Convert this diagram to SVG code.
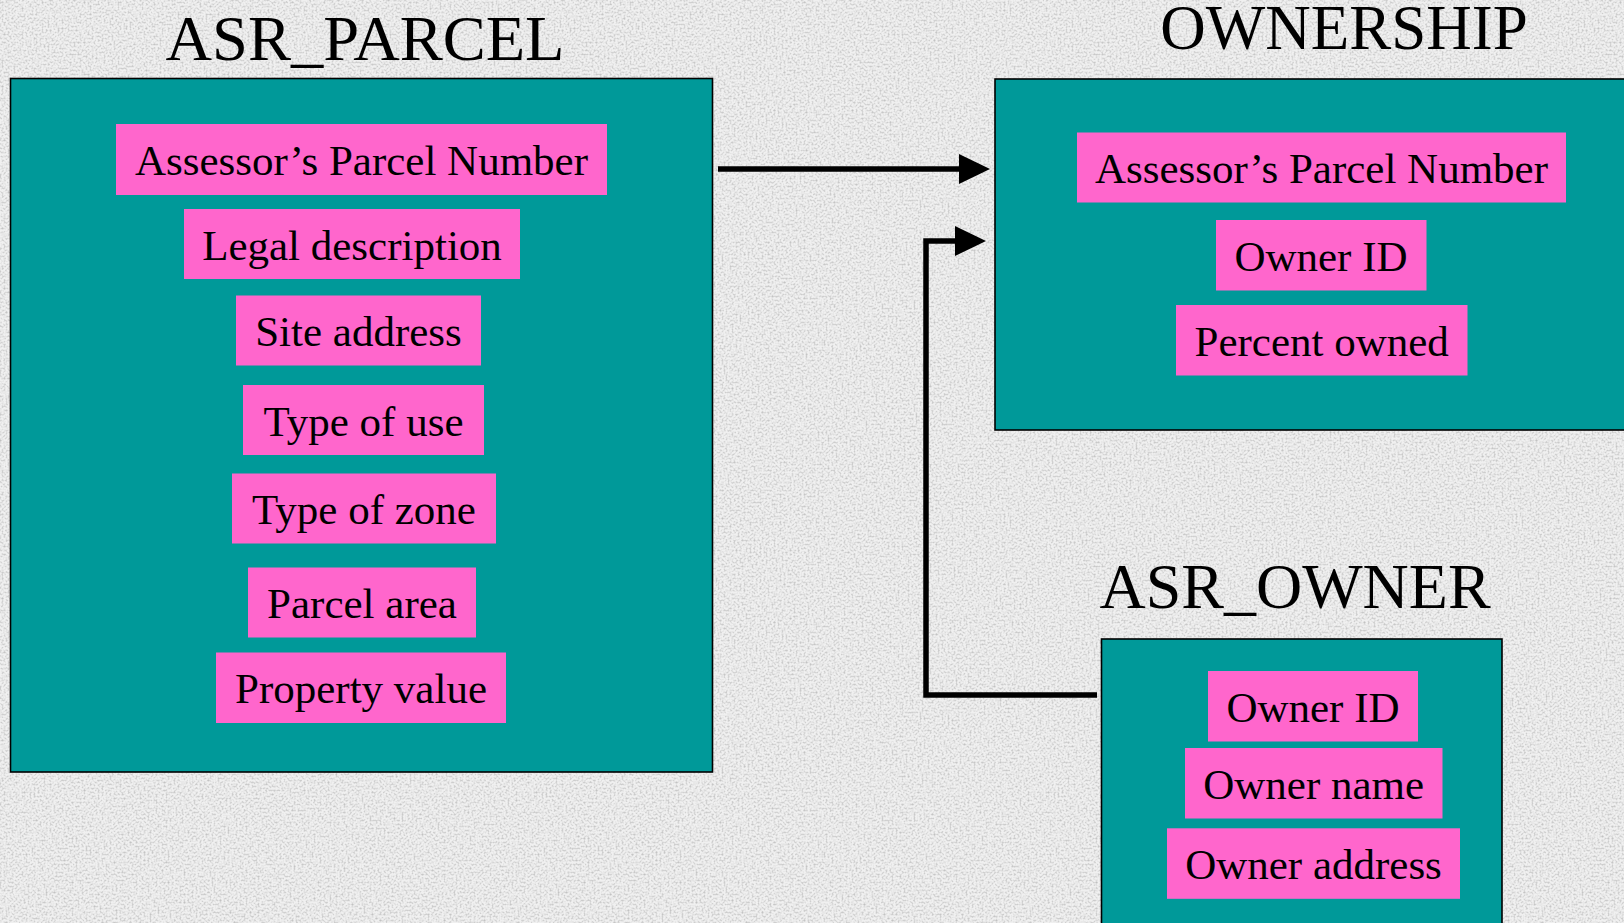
<svg xmlns="http://www.w3.org/2000/svg" width="1624" height="923" viewBox="0 0 1624 923">
  <defs>
    <style>
      .entity { fill: #009999; stroke: #000; stroke-width: 1.6; }
      .field { fill: #ff66cc; }
      .ftxt { font-family: "Liberation Serif", "Times New Roman", serif; font-size: 43px; fill: #000; text-anchor: middle; }
      .title { font-family: "Liberation Serif", "Times New Roman", serif; font-size: 64px; fill: #000; text-anchor: middle; }
      .link { fill: none; stroke: #000; stroke-width: 5.5; stroke-linejoin: miter; stroke-linecap: butt; }
    </style>
    <!-- speckled granite backdrop -->
    <filter id="granite" x="0" y="0" width="1624" height="923" filterUnits="userSpaceOnUse">
      <feTurbulence type="fractalNoise" baseFrequency="0.5" numOctaves="3" seed="11" result="noise"/>
      <feColorMatrix in="noise" type="matrix"
        values="0 0 0 0 0.5  0 0 0 0 0.5  0 0 0 0 0.5  2.1 0 0 0 -0.9"/>
    </filter>
    <marker id="arrow" markerUnits="userSpaceOnUse" markerWidth="32" markerHeight="30"
            refX="0" refY="15" orient="auto" overflow="visible">
      <path d="M0,0 L31,15 L0,30 Z" fill="#000"/>
    </marker>
  </defs>

  <!-- background -->
  <rect x="0" y="0" width="1624" height="923" fill="#f0f0f0"/>
  <rect x="0" y="0" width="1624" height="923" fill="#000" filter="url(#granite)"/>

  <!-- connectors -->
  <g id="connectors">
    <path class="link" d="M718,169 H959" marker-end="url(#arrow)"/>
    <path class="link" d="M1097,695 H926 V241 H955" marker-end="url(#arrow)"/>
  </g>

  <!-- ASR_PARCEL entity -->
  <g id="node-asr-parcel">
    <text class="title" x="365" y="60" textLength="399" lengthAdjust="spacingAndGlyphs">ASR_PARCEL</text>
    <rect class="entity" x="10.5" y="78.5" width="702" height="693.5"/>
    <rect class="field" x="116" y="124" width="491" height="71"/>
    <text class="ftxt" x="361.5" y="175">Assessor’s Parcel Number</text>
    <rect class="field" x="184" y="209" width="336" height="70"/>
    <text class="ftxt" x="352" y="259.5">Legal description</text>
    <rect class="field" x="236" y="295.5" width="245" height="70"/>
    <text class="ftxt" x="358.5" y="346">Site address</text>
    <rect class="field" x="243" y="385" width="241" height="70"/>
    <text class="ftxt" x="363.5" y="435.5">Type of use</text>
    <rect class="field" x="232" y="473.5" width="264" height="70"/>
    <text class="ftxt" x="364" y="524">Type of zone</text>
    <rect class="field" x="248" y="567.5" width="228" height="70"/>
    <text class="ftxt" x="362" y="618">Parcel area</text>
    <rect class="field" x="216" y="652.5" width="290" height="70.5"/>
    <text class="ftxt" x="361" y="703">Property value</text>
  </g>

  <!-- OWNERSHIP entity -->
  <g id="node-ownership">
    <text class="title" x="1344" y="49" style="font-size:63px">OWNERSHIP</text>
    <rect class="entity" x="995" y="79" width="700" height="351"/>
    <rect class="field" x="1077" y="132.5" width="489" height="70"/>
    <text class="ftxt" x="1321.5" y="183">Assessor’s Parcel Number</text>
    <rect class="field" x="1216" y="220" width="210.5" height="70.5"/>
    <text class="ftxt" x="1321" y="270.8">Owner ID</text>
    <rect class="field" x="1176" y="305" width="291.5" height="70.5"/>
    <text class="ftxt" x="1321.7" y="355.8">Percent owned</text>
  </g>

  <!-- ASR_OWNER entity -->
  <g id="node-asr-owner">
    <text class="title" x="1295" y="608">ASR_OWNER</text>
    <rect class="entity" x="1101.5" y="639" width="400.5" height="320"/>
    <rect class="field" x="1208" y="671" width="210" height="70.5"/>
    <text class="ftxt" x="1313" y="721.8">Owner ID</text>
    <rect class="field" x="1185" y="748" width="257.5" height="70.5"/>
    <text class="ftxt" x="1313.7" y="798.8">Owner name</text>
    <rect class="field" x="1167" y="828.3" width="293" height="70.5"/>
    <text class="ftxt" x="1313.5" y="879">Owner address</text>
  </g>
</svg>
